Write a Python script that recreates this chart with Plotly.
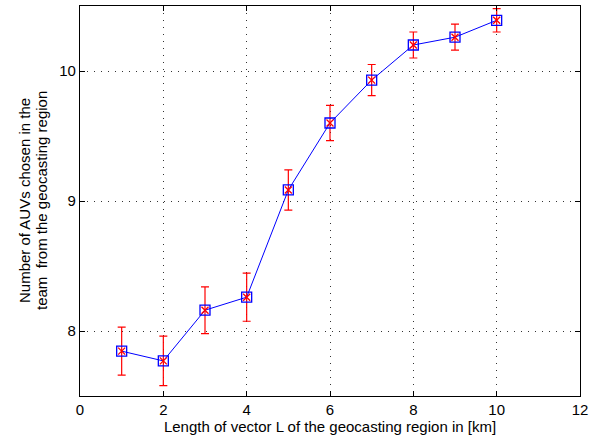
import plotly.graph_objects as go

x_vals = [1, 2, 3, 4, 5, 6, 7, 8, 9, 10]
y_vals = [7.845, 7.77, 8.16, 8.26, 9.085, 9.60, 9.93, 10.20, 10.26, 10.39]
err_vals = [0.185, 0.19, 0.18, 0.185, 0.155, 0.135, 0.12, 0.10, 0.10, 0.09]
x_ticks = [0, 2, 4, 6, 8, 10, 12]
y_ticks = [8, 9, 10]
y_title_lines = ["Number of AUVs chosen in the", "team  from the geocasting region"]

fig = go.Figure()
fig.add_trace(go.Scatter(
    x=x_vals, y=y_vals, mode="lines+markers",
    line=dict(color="#0000ff", width=1),
    marker=dict(symbol="square-open", size=10, color="#0000ff", line=dict(width=1.3)),
    error_y=dict(type="data", array=err_vals, visible=True, color="#ff0000",
                 thickness=1.2, width=4),
    showlegend=False,
))
fig.add_trace(go.Scatter(
    x=x_vals, y=y_vals, mode="markers",
    marker=dict(symbol="x-thin-open", size=7, color="#ff0000", line=dict(width=1.3, color="#ff0000")),
    showlegend=False,
))

font_family = "Liberation Sans, Arial, sans-serif"
axis_common = dict(
    showline=True, linecolor="black", linewidth=1.2, mirror="ticks",
    ticks="inside", ticklen=5, tickcolor="black",
    showgrid=True, gridcolor="#333333", griddash="1px,6px", gridwidth=1,
    zeroline=False,
    tickfont=dict(family=font_family, size=15, color="black"),
)

for shift, line_text in zip([-56, -39], y_title_lines):
    fig.add_annotation(
        text=line_text, xref="paper", yref="paper", x=0, y=0.5,
        xanchor="center", yanchor="middle", xshift=shift, textangle=-90,
        showarrow=False, font=dict(family=font_family, size=15, color="black"),
    )

fig.update_layout(
    width=602, height=442,
    margin=dict(l=80, r=22, t=6, b=46),
    paper_bgcolor="white", plot_bgcolor="white",
    font=dict(family=font_family, color="black"),
    xaxis=dict(range=[0, 12], tickvals=x_ticks,
               title=dict(text="Length of vector L of the geocasting region in [km]",
                          font=dict(size=15), standoff=2),
               **axis_common),
    yaxis=dict(range=[7.5, 10.5], tickvals=y_ticks, **axis_common),
)

fig.write_html("out.html")
